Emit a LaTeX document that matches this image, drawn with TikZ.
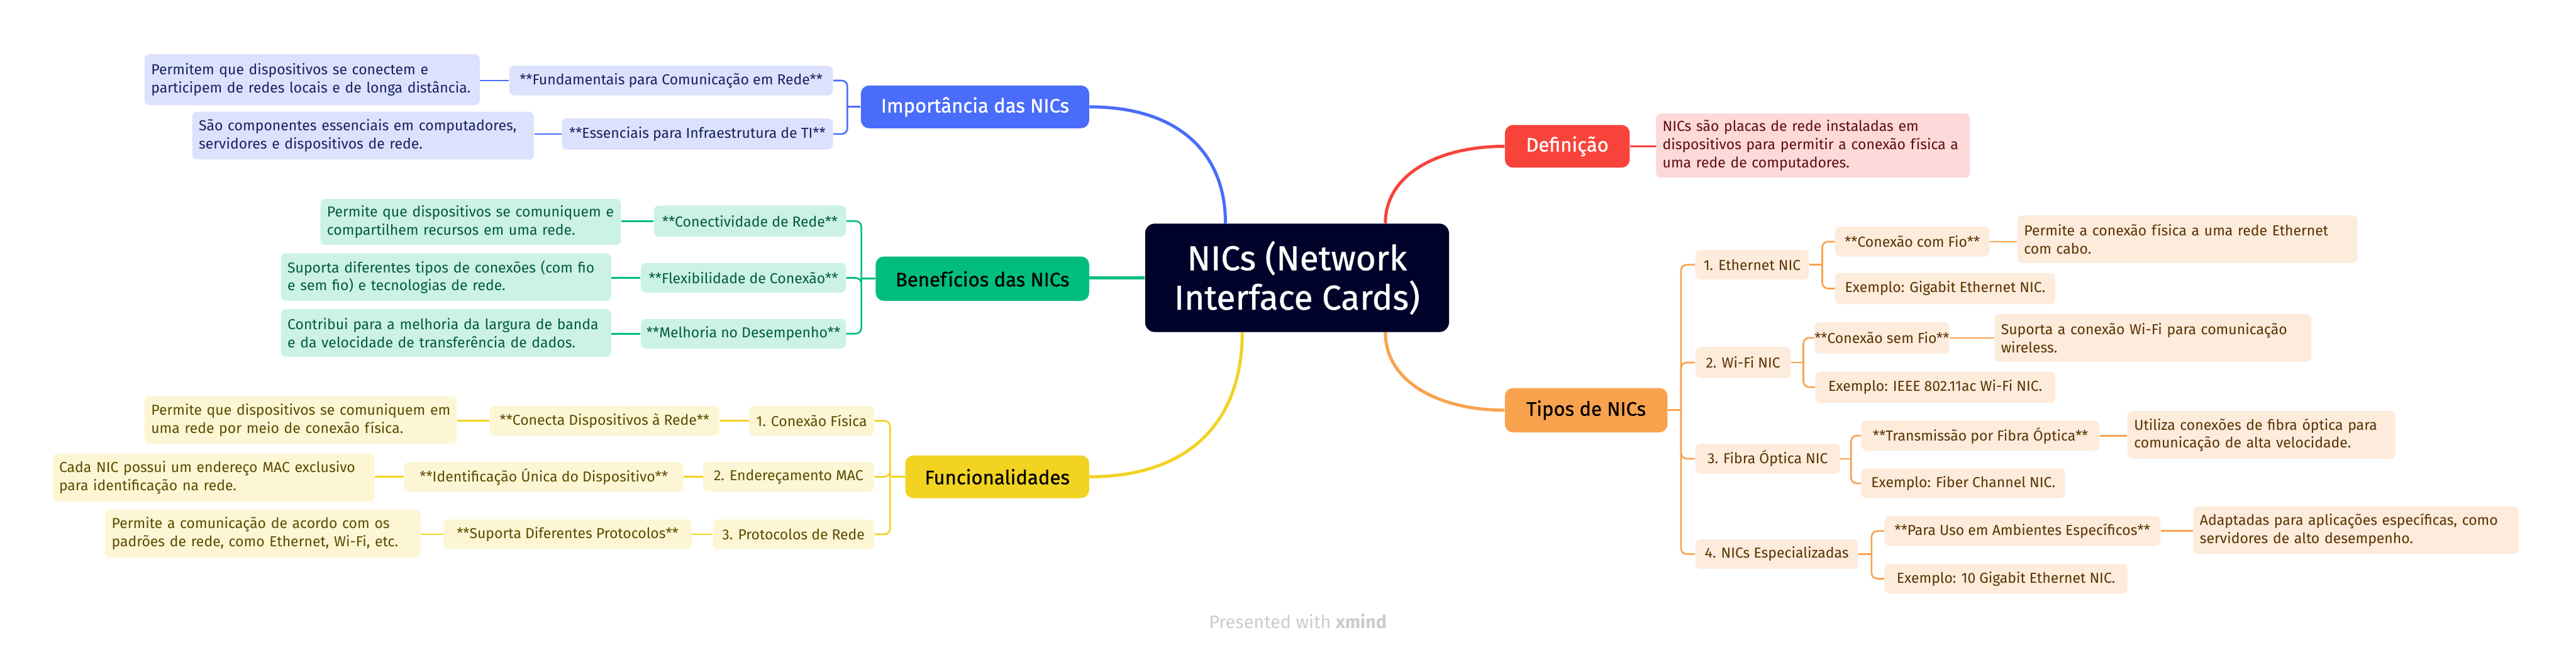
\documentclass[tikz,border=0pt]{standalone}
\usepackage{fontspec}
\setmainfont{Fira Sans}
\newfontfamily\medfont[FakeBold=0.8]{Fira Sans}
\usetikzlibrary{calc}
\definecolor{cent}{HTML}{000229}
\definecolor{bmain}{HTML}{4A6CFA}\definecolor{blt}{HTML}{DCE2FD}\definecolor{btx}{HTML}{17225E}
\definecolor{gmain}{HTML}{00BD7E}\definecolor{glt}{HTML}{CCF2E5}\definecolor{gtx}{HTML}{005C3A}
\definecolor{ymain}{HTML}{F2D322}\definecolor{ylt}{HTML}{FDF6D4}\definecolor{ytx}{HTML}{5C4B00}
\definecolor{rmain}{HTML}{F8433B}\definecolor{rlt}{HTML}{FDD9D9}\definecolor{rtx}{HTML}{5E0D0D}
\definecolor{omain}{HTML}{F9A24E}\definecolor{olt}{HTML}{FDEBDC}\definecolor{otx}{HTML}{5A3300}
\newcommand\myleaffont{\fontsize{8.8}{11}\selectfont}
\newcommand\mymainfont{\medfont\fontsize{11.9}{12}\selectfont}
\newcommand\mycentfont{\medfont\fontsize{21}{24}\selectfont}
\newcommand\mywmfont{\fontsize{11}{12}\selectfont}
\tikzset{
  x=1pt,y=-1pt,
  base/.style={rounded corners=3pt, inner sep=0pt, font=\myleaffont},
  sub/.style={base, align=center},
  leaf/.style={base, align=left, inner xsep=4pt},
  mainbox/.style={rounded corners=5pt, inner sep=0pt, font=\mymainfont},
  bsub/.style={sub, fill=blt, text=btx}, bleaf/.style={leaf, fill=blt, text=btx},
  gsub/.style={sub, fill=glt, text=gtx}, gleaf/.style={leaf, fill=glt, text=gtx},
  ysub/.style={sub, fill=ylt, text=ytx}, yleaf/.style={leaf, fill=ylt, text=ytx},
  rleaf/.style={leaf, fill=rlt, text=rtx},
  osub/.style={sub, fill=olt, text=otx}, oleaf/.style={leaf, fill=olt, text=otx},
  bcon/.style={draw=bmain, line width=1pt}, bthick/.style={draw=bmain, line width=1.9pt},
  gcon/.style={draw=gmain, line width=1pt}, gthick/.style={draw=gmain, line width=1.9pt},
  ycon/.style={draw=ymain, line width=1pt}, ythick/.style={draw=ymain, line width=1.9pt},
  rcon/.style={draw=rmain, line width=1pt}, rthick/.style={draw=rmain, line width=1.9pt},
  ocon/.style={draw=omain, line width=1pt}, othick/.style={draw=omain, line width=1.9pt},
  elbow/.style={rounded corners=3.5pt}
}
\begin{document}
\begin{tikzpicture}
\useasboundingbox (0,0) rectangle (1568,396.3);
\fill[white] (0,0) rectangle (1568,396.3);

% central
\node[rounded corners=6pt, fill=cent, text=white, font=\mycentfont, align=center,
      minimum width=185, minimum height=66, inner sep=0pt] (c) at (789.5,169) {NICs (Network\\Interface Cards)};

% main branches
\node[mainbox, fill=bmain, text=white, minimum width=139, minimum height=26] (imp) at (593.5,65) {Importância das NICs};
\node[mainbox, fill=gmain, text=black, minimum width=130, minimum height=27] (ben) at (598,169.5) {Benefícios das NICs};
\node[mainbox, fill=ymain, text=black, minimum width=112, minimum height=26] (fun) at (607,290) {Funcionalidades};
\node[mainbox, fill=rmain, text=white, minimum width=76, minimum height=26] (def) at (954,89) {Definição};
\node[mainbox, fill=omain, text=black, minimum width=99, minimum height=27] (tip) at (965.5,249.5) {Tipos de NICs};

% main connectors
\coordinate (cb) at ($(c.north west)!0.265!(c.north east)$);
\coordinate (cr) at ($(c.north west)!0.79!(c.north east)$);
\coordinate (cy) at ($(c.south west)!0.32!(c.south east)$);
\coordinate (co) at ($(c.south west)!0.79!(c.south east)$);
\draw[bthick] (cb) .. controls +(0,-42) and +(55,0) .. (imp.east);
\draw[rthick] (cr) .. controls +(0,-30) and +(-40,0) .. (def.west);
\draw[gthick] (c.west) -- (c.west -| ben.east);
\draw[ythick] (cy) .. controls +(0,55) and +(60,0) .. (fun.east);
\draw[othick] (co) .. controls +(0,30) and +(-40,0) .. (tip.west);

% Importancia
\node[bsub, minimum width=197, minimum height=18] (i1) at (408.5,49) {**Fundamentais para Comunicação em Rede**};
\node[bsub, minimum width=165, minimum height=19] (i2) at (424.5,81.5) {**Essenciais para Infraestrutura de TI**};
\node[bleaf, text width=196, minimum height=31] (i1l) at (190,48.5) {\mbox{Permitem que dispositivos se conectem e}\\\mbox{participem de redes locais e de longa distância.}};
\node[bleaf, text width=200, minimum height=29] (i2l) at (221,82.5) {\mbox{São componentes essenciais em computadores,}\\\mbox{servidores e dispositivos de rede.}};
\coordinate (impj) at ($(imp.west)+(-8,0)$);
\draw[bcon] (imp.west) -- (impj);
\draw[bcon, elbow] (impj) |- (i1.east);
\draw[bcon, elbow] (impj) |- (i2.east);
\draw[bcon] (i1.west) -- (i1.west -| i1l.east);
\draw[bcon] (i2.west) -- (i2.west -| i2l.east);

% Beneficios
\node[gsub, minimum width=117, minimum height=19] (b1) at (456.5,134.5) {**Conectividade de Rede**};
\node[gsub, minimum width=125, minimum height=18] (b2) at (452.5,169) {**Flexibilidade de Conexão**};
\node[gsub, minimum width=125, minimum height=18] (b3) at (452.5,203) {**Melhoria no Desempenho**};
\node[gleaf, text width=175, minimum height=28] (b1l) at (286.5,135) {\mbox{Permite que dispositivos se comuniquem e}\\\mbox{compartilhem recursos em uma rede.}};
\node[gleaf, text width=193, minimum height=29] (b2l) at (271.5,168.5) {\mbox{Suporta diferentes tipos de conexões (com fio}\\\mbox{e sem fio) e tecnologias de rede.}};
\node[gleaf, text width=193, minimum height=29] (b3l) at (271.5,202.5) {\mbox{Contribui para a melhoria da largura de banda}\\\mbox{e da velocidade de transferência de dados.}};
\coordinate (benj) at ($(ben.west)+(-8.5,0)$);
\draw[gcon] (ben.west) -- (benj);
\draw[gcon, elbow] (benj) |- (b1.east);
\draw[gcon, elbow] (benj) |- (b2.east);
\draw[gcon, elbow] (benj) |- (b3.east);
\draw[gcon] (b1.west) -- (b1.west -| b1l.east);
\draw[gcon] (b2.west) -- (b2.west -| b2l.east);
\draw[gcon] (b3.west) -- (b3.west -| b3l.east);

% Funcionalidades
\node[ysub, minimum width=76, minimum height=18] (f1) at (494,256) {1. Conexão Física};
\node[ysub, minimum width=104, minimum height=18] (f2) at (480,290) {2. Endereçamento MAC};
\node[ysub, minimum width=98, minimum height=18] (f3) at (483,325) {3. Protocolos de Rede};
\node[ysub, minimum width=140, minimum height=18] (f1b) at (368,256) {**Conecta Dispositivos à Rede**};
\node[ysub, minimum width=170, minimum height=18] (f2b) at (331,290) {**Identificação Única do Dispositivo**};
\node[ysub, minimum width=151, minimum height=18] (f3b) at (345.5,325) {**Suporta Diferentes Protocolos**};
\node[yleaf, text width=182, minimum height=29] (f1l) at (183,255.5) {\mbox{Permite que dispositivos se comuniquem em}\\\mbox{uma rede por meio de conexão física.}};
\node[yleaf, text width=188, minimum height=29] (f2l) at (130,290.5) {\mbox{Cada NIC possui um endereço MAC exclusivo}\\\mbox{para identificação na rede.}};
\node[yleaf, text width=184, minimum height=29] (f3l) at (160,324.5) {\mbox{Permite a comunicação de acordo com os}\\\mbox{padrões de rede, como Ethernet, Wi-Fi, etc.}};
\coordinate (funj) at ($(fun.west)+(-9,0)$);
\draw[ycon] (fun.west) -- (funj);
\draw[ycon, elbow] (funj) |- (f1.east);
\draw[ycon, elbow] (funj) |- (f2.east);
\draw[ycon, elbow] (funj) |- (f3.east);
\draw[ycon] (f1.west) -- (f1.west -| f1b.east);
\draw[ycon] (f2.west) -- (f2.west -| f2b.east);
\draw[ycon] (f3.west) -- (f3.west -| f3b.east);
\draw[ycon] (f1b.west) -- (f1b.west -| f1l.east);
\draw[ycon] (f2b.west) -- (f2b.west -| f2l.east);
\draw[ycon] (f3b.west) -- (f3b.west -| f3l.east);

% Definicao
\node[rleaf, text width=183, minimum height=39] (d1) at (1103.5,88.5) {\mbox{NICs são placas de rede instaladas em}\\\mbox{dispositivos para permitir a conexão física a}\\\mbox{uma rede de computadores.}};
\draw[rcon] (def.east) -- (def.east -| d1.west);

% Tipos
\node[osub, minimum width=69, minimum height=18] (t1) at (1066.5,161) {1. Ethernet NIC};
\node[osub, minimum width=58, minimum height=19] (t2) at (1061,220.5) {2. Wi-Fi NIC};
\node[osub, minimum width=88, minimum height=18] (t3) at (1076,279) {3. Fibra Óptica NIC};
\node[osub, minimum width=99, minimum height=18] (t4) at (1081.5,337) {4. NICs Especializadas};
\coordinate (tipj) at ($(tip.east)+(8,0)$);
\draw[ocon] (tip.east) -- (tipj);
\draw[ocon, elbow] (tipj) |- (t1.west);
\draw[ocon, elbow] (tipj) |- (t2.west);
\draw[ocon, elbow] (tipj) |- (t3.west);
\draw[ocon, elbow] (tipj) |- (t4.west);

\node[osub, minimum width=94, minimum height=18] (t1a) at (1164,147) {**Conexão com Fio**};
\node[osub, minimum width=134, minimum height=19] (t1b) at (1184,175.5) {Exemplo: Gigabit Ethernet NIC.};
\node[oleaf, text width=199, minimum height=29] (t1l) at (1331.5,145.5) {\mbox{Permite a conexão física a uma rede Ethernet}\\\mbox{com cabo.}};
\node[osub, minimum width=81, minimum height=19] (t2a) at (1145.5,205.5) {**Conexão sem Fio**};
\node[osub, minimum width=146, minimum height=19] (t2b) at (1178,235.5) {Exemplo: IEEE 802.11ac Wi-Fi NIC.};
\node[oleaf, text width=185, minimum height=29] (t2l) at (1310.5,205.5) {\mbox{Suporta a conexão Wi-Fi para comunicação}\\\mbox{wireless.}};
\node[osub, minimum width=145, minimum height=18] (t3a) at (1205.5,265) {**Transmissão por Fibra Óptica**};
\node[osub, minimum width=124, minimum height=18] (t3b) at (1195,294) {Exemplo: Fiber Channel NIC.};
\node[oleaf, text width=155, minimum height=29] (t3l) at (1376.5,264.5) {\mbox{Utiliza conexões de fibra óptica para}\\\mbox{comunicação de alta velocidade.}};
\node[osub, minimum width=168, minimum height=18] (t4a) at (1231,323) {**Para Uso em Ambientes Específicos**};
\node[osub, minimum width=148, minimum height=18] (t4b) at (1221,352) {Exemplo: 10 Gigabit Ethernet NIC.};
\node[oleaf, text width=190, minimum height=29] (t4l) at (1434,322.5) {\mbox{Adaptadas para aplicações específicas, como}\\\mbox{servidores de alto desempenho.}};

\coordinate (t1j) at ($(t1.east)+(8,0)$);
\draw[ocon] (t1.east) -- (t1j);
\draw[ocon, elbow] (t1j) |- (t1a.west);
\draw[ocon, elbow] (t1j) |- (t1b.west);
\draw[ocon] (t1a.east) -- (t1a.east -| t1l.west);
\coordinate (t2j) at ($(t2.east)+(7.5,0)$);
\draw[ocon] (t2.east) -- (t2j);
\draw[ocon, elbow] (t2j) |- (t2a.west);
\draw[ocon, elbow] (t2j) |- (t2b.west);
\draw[ocon] (t2a.east) -- (t2a.east -| t2l.west);
\coordinate (t3j) at ($(t3.east)+(6.5,0)$);
\draw[ocon] (t3.east) -- (t3j);
\draw[ocon, elbow] (t3j) |- (t3a.west);
\draw[ocon, elbow] (t3j) |- (t3b.west);
\draw[ocon] (t3a.east) -- (t3a.east -| t3l.west);
\coordinate (t4j) at ($(t4.east)+(8,0)$);
\draw[ocon] (t4.east) -- (t4j);
\draw[ocon, elbow] (t4j) |- (t4a.west);
\draw[ocon, elbow] (t4j) |- (t4b.west);
\draw[ocon] (t4a.east) -- (t4a.east -| t4l.west);

% watermark
\node[font=\mywmfont, text=black!20] (wm) at (790,378) {Presented with \textbf{xmind}};
\end{tikzpicture}
\end{document}
